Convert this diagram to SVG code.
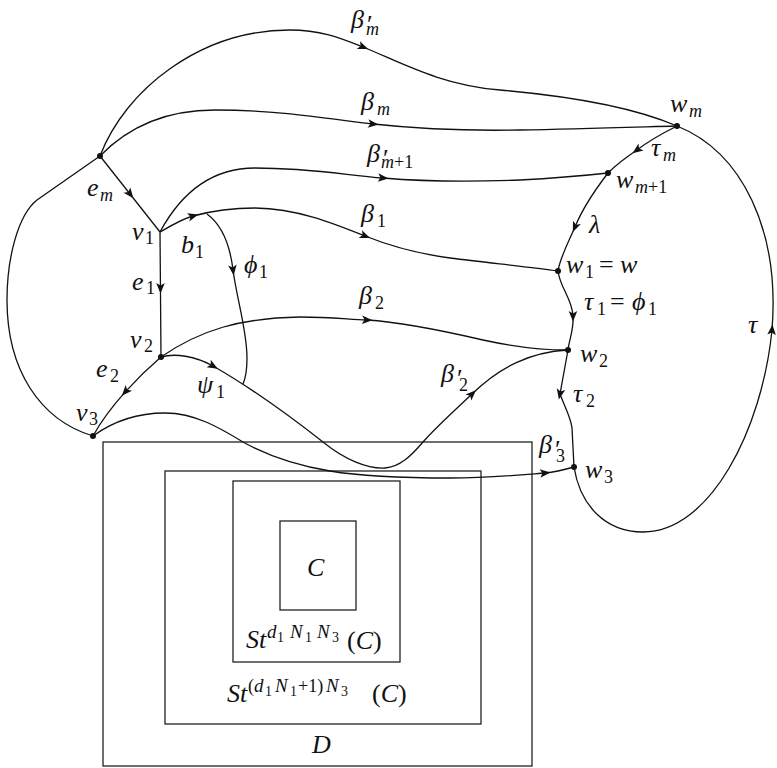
<svg xmlns="http://www.w3.org/2000/svg" xmlns:xlink="http://www.w3.org/1999/xlink" width="777" height="768" viewBox="0 0 777 768">
<style>
.e{fill:none;stroke:#111;stroke-width:1.3}
.b{fill:none;stroke:#222;stroke-width:1.3}
.d{fill:#111}
text{font-family:"Liberation Serif","Times New Roman",serif;fill:#111}
.m{font-style:italic;font-size:26px}
.s{font-style:italic;font-size:18px}
.n{font-style:normal;font-size:18px}
.N{font-style:normal;font-size:26px}
.ss{font-style:italic;font-size:19px}
.sn{font-style:normal;font-size:14px}
</style>
<defs>
<path id="ah" d="M5.5,0 L-5,-4.3 L-2.5,0 L-5,4.3 Z" fill="#111"/>
</defs>
<rect width="777" height="768" fill="#fff"/>

<g id="boxes">
<g id="box-D"><rect class="b" x="103" y="442" width="429" height="324"/><text class="m" x="312" y="753">D</text></g>
<g id="box-St2"><rect class="b" x="165" y="471" width="316" height="253"/>
<text><tspan class="m" x="227" y="702">St</tspan><tspan class="n" x="248" y="692">(</tspan><tspan class="ss" x="254" y="692">d</tspan><tspan class="sn" x="265" y="696">1</tspan><tspan class="ss" x="275" y="692">N</tspan><tspan class="sn" x="290" y="696">1</tspan><tspan class="n" x="298" y="692">+1)</tspan><tspan class="ss" x="326" y="692">N</tspan><tspan class="sn" x="341" y="696">3</tspan><tspan class="N" x="372" y="702">(</tspan><tspan class="m">C</tspan><tspan class="N">)</tspan></text>
</g>
<g id="box-St1"><rect class="b" x="233" y="481" width="167" height="181"/>
<text><tspan class="m" x="246" y="648">St</tspan><tspan class="ss" x="267" y="638">d</tspan><tspan class="sn" x="277" y="642">1</tspan><tspan class="ss" x="290" y="638">N</tspan><tspan class="sn" x="305" y="642">1</tspan><tspan class="ss" x="317" y="638">N</tspan><tspan class="sn" x="332" y="642">3</tspan><tspan class="N" x="347" y="649">(</tspan><tspan class="m">C</tspan><tspan class="N">)</tspan></text>
</g>
<g id="box-C"><rect class="b" x="280" y="521" width="76" height="89"/><text class="m" x="307" y="576">C</text></g>
</g>

<g id="connectors">
<path class="e" d="M100,156 C125,90 200,30 290,30 C320,30 340,38 363,47 C400,62 440,85 500,90 C580,97 640,110 677,126"/>
<path class="e" d="M100,156 C130,125 170,110 215,110 C280,110 330,119 373,124 C420,129 470,131 520,130 C580,129 640,127 677,126"/>
<path class="e" d="M160,232 C180,195 210,168 255,168 C310,168 345,175 383,178 C430,182 470,182 520,180 C560,178 590,175 608,173"/>
<path class="e" d="M160,232 C172,225 182,219 193,216 C215,210 235,208 255,208 C300,209 335,224 365,236 C395,248 420,254 450,258 C490,263 530,267 558,271"/>
<path class="e" d="M207,214 C222,225 230,245 233,270 C237,300 247,330 247,358 C247,370 246,377 243,384"/>
<path class="e" d="M100,156 L160,232"/>
<path class="e" d="M160,232 L161,357"/>
<path class="e" d="M161,357 C140,375 110,405 93,436"/>
<path class="e" d="M161,357 C175,353 195,356 213,366 C255,390 295,420 323,442 C345,460 368,469 385,468 C400,467 412,455 423,442 C435,428 455,410 472,394 C500,367 530,352 568,350"/>
<path class="e" d="M93,436 C115,420 140,413 165,413 C195,413 220,428 243,442 C270,457 300,466 330,471 C360,476 400,478 450,478 C490,478 520,475 545,473 C555,472 565,469.5 574,467"/>
<path class="e" d="M161,357 C200,330 240,318 300,317 C330,317 345,319 367,320 C400,322 440,330 483,340 C515,347 540,350 568,350"/>
<path class="e" d="M100,156 L37,200 C18,215 7,258 7,300 C7,370 40,420 93,436"/>
<path class="e" d="M677,126 C665,132 650,140 637,150 C625,158 615,166 608,173"/>
<path class="e" d="M608,173 C595,190 583,207 575,227 C567,245 560,258 558,271"/>
<path class="e" d="M558,271 C560,288 572,298 573,316 C574,330 569,340 568,350"/>
<path class="e" d="M568,350 L560,394 C564,405 571,418 572,428 L574,467"/>
<path class="e" d="M574,467 C580,505 605,532 643,532 C710,532 762,430 772,330 C780,230 742,152 677,126"/>

<use xlink:href="#ah" transform="translate(363,47) rotate(22)"/>
<use xlink:href="#ah" transform="translate(373,124) rotate(6)"/>
<use xlink:href="#ah" transform="translate(383,178) rotate(5)"/>
<use xlink:href="#ah" transform="translate(193,216) rotate(-15)"/>
<use xlink:href="#ah" transform="translate(365,236) rotate(22)"/>
<use xlink:href="#ah" transform="translate(233,270) rotate(83)"/>
<use xlink:href="#ah" transform="translate(130,194) rotate(52)"/>
<use xlink:href="#ah" transform="translate(160.5,288) rotate(90)"/>
<use xlink:href="#ah" transform="translate(125.5,391.6) rotate(132)"/>
<use xlink:href="#ah" transform="translate(213,366) rotate(29)"/>
<use xlink:href="#ah" transform="translate(472,394) rotate(-44)"/>
<use xlink:href="#ah" transform="translate(545,473) rotate(-5)"/>
<use xlink:href="#ah" transform="translate(367,320) rotate(3)"/>
<use xlink:href="#ah" transform="translate(637,150) rotate(144)"/>
<use xlink:href="#ah" transform="translate(575,227) rotate(113)"/>
<use xlink:href="#ah" transform="translate(573,316) rotate(90)"/>
<use xlink:href="#ah" transform="translate(560,394) rotate(102)"/>
<use xlink:href="#ah" transform="translate(772,330) rotate(-85)"/>

<g id="edge-labels">
<text><tspan class="m" x="351" y="28">β</tspan><tspan class="N" x="367" y="33">′</tspan><tspan class="s" x="366" y="35">m</tspan></text>
<text><tspan class="m" x="361" y="110">β</tspan><tspan class="s" x="377" y="115">m</tspan></text>
<text><tspan class="m" x="367" y="162">β</tspan><tspan class="N" x="383" y="167">′</tspan><tspan class="s" x="381" y="168">m</tspan><tspan class="n">+1</tspan></text>
<text><tspan class="m" x="361" y="222">β</tspan><tspan class="n" x="377" y="227">1</tspan></text>
<text><tspan class="m" x="359" y="304">β</tspan><tspan class="n" x="375" y="309">2</tspan></text>
<text><tspan class="m" x="441" y="382">β</tspan><tspan class="N" x="457" y="387">′</tspan><tspan class="n" x="459" y="391">2</tspan></text>
<text><tspan class="m" x="539" y="453">β</tspan><tspan class="N" x="555" y="458">′</tspan><tspan class="n" x="556" y="462">3</tspan></text>
<text><tspan class="m" x="87" y="196">e</tspan><tspan class="s" x="100" y="201">m</tspan></text>
<text><tspan class="m" x="181" y="253">b</tspan><tspan class="n" x="195" y="258">1</tspan></text>
<text><tspan class="m" x="244" y="273">ϕ</tspan><tspan class="n" x="259" y="278">1</tspan></text>
<text><tspan class="m" x="132" y="290">e</tspan><tspan class="n" x="146" y="294">1</tspan></text>
<text><tspan class="m" x="96" y="377">e</tspan><tspan class="n" x="110" y="382">2</tspan></text>
<text><tspan class="m" x="197" y="393">ψ</tspan><tspan class="n" x="216" y="398">1</tspan></text>
<text><tspan class="m" x="651" y="156">τ</tspan><tspan class="s" x="663" y="161">m</tspan></text>
<text class="m" x="589" y="233">λ</text>
<text><tspan class="m" x="584" y="310">τ</tspan><tspan class="n" x="597" y="315">1</tspan><tspan class="N" x="610" y="310">=</tspan><tspan class="m" x="632" y="310">ϕ</tspan><tspan class="n" x="648" y="315">1</tspan></text>
<text class="m" x="748" y="333">τ</text>
<text><tspan class="m" x="573" y="402">τ</tspan><tspan class="n" x="586" y="407">2</tspan></text>
</g>
</g>

<g id="node-em"><circle class="d" cx="100" cy="156" r="3"/></g>
<g id="node-v1"><text><tspan class="m" x="132" y="240">v</tspan><tspan class="n" x="145" y="244">1</tspan></text></g>
<g id="node-v2"><circle class="d" cx="161" cy="357" r="3"/><text><tspan class="m" x="130" y="348">v</tspan><tspan class="n" x="144" y="352">2</tspan></text></g>
<g id="node-v3"><circle class="d" cx="93" cy="436" r="3"/><text><tspan class="m" x="76" y="421">v</tspan><tspan class="n" x="89" y="425">3</tspan></text></g>
<g id="node-wm"><circle class="d" cx="677" cy="126" r="3"/><text><tspan class="m" x="670" y="112">w</tspan><tspan class="s" x="689" y="117">m</tspan></text></g>
<g id="node-wm1"><circle class="d" cx="608" cy="173" r="3"/><text><tspan class="m" x="616" y="188">w</tspan><tspan class="s" x="635" y="193">m</tspan><tspan class="n">+1</tspan></text></g>
<g id="node-w1"><circle class="d" cx="558" cy="271" r="3"/><text><tspan class="m" x="566" y="273">w</tspan><tspan class="n" x="585" y="278">1</tspan><tspan class="N" x="599" y="273">=</tspan><tspan class="m" x="620" y="273">w</tspan></text></g>
<g id="node-w2"><circle class="d" cx="568" cy="350" r="3"/><text><tspan class="m" x="580" y="362">w</tspan><tspan class="n" x="599" y="367">2</tspan></text></g>
<g id="node-w3"><circle class="d" cx="574" cy="467" r="3"/><text><tspan class="m" x="585" y="478">w</tspan><tspan class="n" x="604" y="483">3</tspan></text></g>
</svg>
